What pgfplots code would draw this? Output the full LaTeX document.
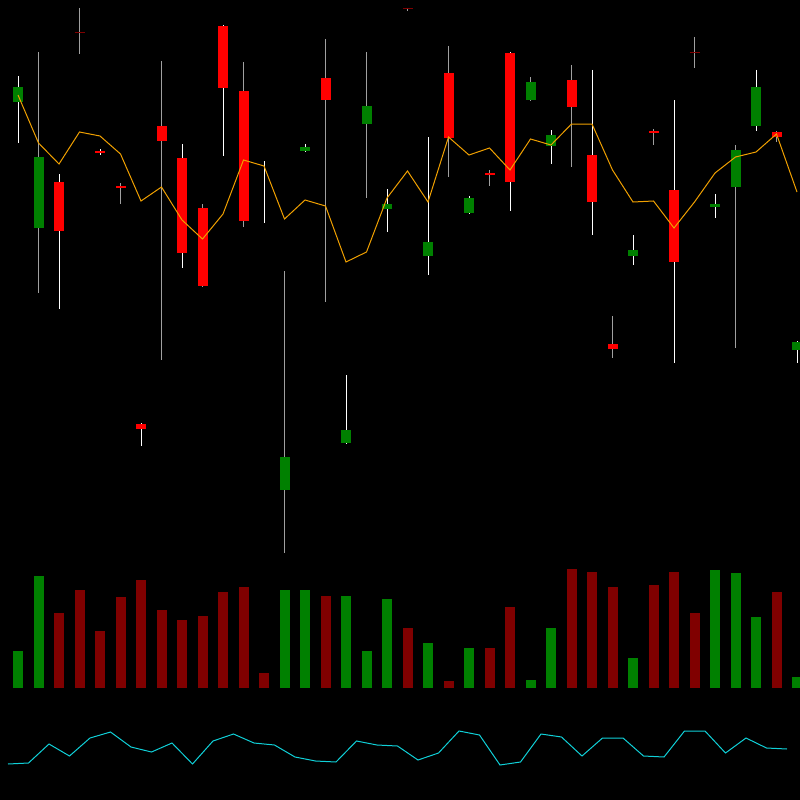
\documentclass[border=0pt]{standalone}
\usepackage{pgfplots}
\pgfplotsset{compat=1.18}
\definecolor{cgreen}{HTML}{008000}
\definecolor{cred}{HTML}{FF0000}
\definecolor{vred}{HTML}{800000}
\definecolor{wgray}{HTML}{A0A0A0}
\definecolor{maorange}{HTML}{F0A000}
\definecolor{lcyan}{HTML}{10D0D8}
\begin{document}
\begin{tikzpicture}
\begin{axis}[width=800bp,height=800bp,scale only axis,
  xmin=0,xmax=800,ymin=0,ymax=800,y dir=reverse,
  axis background/.style={fill=black},
  axis line style={draw=none},ticks=none,
  unbounded coords=jump, clip=true]
% wicks (even index)
\addplot[white,line width=1bp,mark=none] coordinates {
(18,76)(18,143)(18,nan)
(59,174)(59,309)(59,nan)
(100,149)(100,155)(100,nan)
(141,423)(141,446)(141,nan)
(182,144)(182,268)(182,nan)
(223,25)(223,156)(223,nan)
(264,161)(264,223)(264,nan)
(305,144)(305,152)(305,nan)
(346,375)(346,444)(346,nan)
(387,189)(387,232)(387,nan)
(428,137)(428,275)(428,nan)
(469,196)(469,214)(469,nan)
(510,52)(510,211)(510,nan)
(551,130)(551,164)(551,nan)
(592,70)(592,235)(592,nan)
(633,235)(633,265)(633,nan)
(674,100)(674,363)(674,nan)
(715,194)(715,218)(715,nan)
(756,70)(756,131)(756,nan)
(797,341)(797,363)
};
% wicks (odd index)
\addplot[wgray,line width=1.2bp,mark=none] coordinates {
(38.5,52)(38.5,293)(38.5,nan)
(79.5,8)(79.5,54)(79.5,nan)
(120.5,183)(120.5,204)(120.5,nan)
(161.5,61)(161.5,360)(161.5,nan)
(202.5,204)(202.5,287)(202.5,nan)
(243.5,62)(243.5,227)(243.5,nan)
(284.5,271)(284.5,553)(284.5,nan)
(325.5,39)(325.5,302)(325.5,nan)
(366.5,52)(366.5,198)(366.5,nan)
(407.5,8)(407.5,11)(407.5,nan)
(448.5,46)(448.5,177)(448.5,nan)
(489.5,170)(489.5,186)(489.5,nan)
(530.5,77)(530.5,101)(530.5,nan)
(571.5,65)(571.5,167)(571.5,nan)
(612.5,316)(612.5,358)(612.5,nan)
(653.5,129)(653.5,145)(653.5,nan)
(694.5,37)(694.5,68)(694.5,nan)
(735.5,145)(735.5,348)(735.5,nan)
(776.5,131)(776.5,142)
};
% green bodies
\addplot[cgreen,line width=10bp,mark=none] coordinates {
(18,87)(18,102)(18,nan)
(38.5,157)(38.5,228)(38.5,nan)
(284.5,457)(284.5,490)(284.5,nan)
(305,147)(305,151)(305,nan)
(346,430)(346,443)(346,nan)
(366.5,106)(366.5,124)(366.5,nan)
(387,204)(387,209)(387,nan)
(428,242)(428,256)(428,nan)
(469,198)(469,213)(469,nan)
(530.5,82)(530.5,100)(530.5,nan)
(551,135)(551,146)(551,nan)
(633,250)(633,256)(633,nan)
(715,204)(715,206.5)(715,nan)
(735.5,150)(735.5,187)(735.5,nan)
(756,87)(756,126)(756,nan)
(797,342)(797,350)
};
% red bodies
\addplot[cred,line width=10bp,mark=none] coordinates {
(59,182)(59,231)(59,nan)
(100,151)(100,153)(100,nan)
(120.5,186)(120.5,188)(120.5,nan)
(141,424)(141,429)(141,nan)
(161.5,126)(161.5,141)(161.5,nan)
(182,158)(182,253)(182,nan)
(202.5,208)(202.5,286)(202.5,nan)
(223,26)(223,88)(223,nan)
(243.5,91)(243.5,221)(243.5,nan)
(325.5,78)(325.5,100)(325.5,nan)
(448.5,73)(448.5,138)(448.5,nan)
(489.5,173)(489.5,175)(489.5,nan)
(510,53)(510,182)(510,nan)
(571.5,80)(571.5,107)(571.5,nan)
(592,155)(592,202)(592,nan)
(612.5,344)(612.5,349)(612.5,nan)
(653.5,131)(653.5,133)(653.5,nan)
(674,190)(674,262)(674,nan)
(776.5,132)(776.5,137)
};
% doji lines
\addplot[vred,line width=1bp,mark=none] coordinates {
(74.5,33)(84.5,33)(80,nan)
(402.5,9)(412.5,9)(410,nan)
(689.5,53)(699.5,53)
};
% moving average
\addplot[maorange,line width=1bp,mark=none] coordinates {
(18,95)(38.5,143)(59,164)(79.5,132)(100,136)(120.5,154)(141,201)(161.5,187)
(182,220)(202.5,239)(223,214)(243.5,160)(264,166)(284.5,219)(305,200)(325.5,206)
(346,262)(366.5,252)(387,198)(407.5,171)(428,202)(448.5,137)(469,155)(489.5,148)
(510,170)(530.5,139)(551,145)(571.5,124)(592,124)(612.5,170)(633,202)(653.5,201)
(674,228)(694.5,202)(715,173)(735.5,157)(756,152)(776.5,134)(797,192)
};
% volume green
\addplot[cgreen,line width=10bp,mark=none] coordinates {
(18,688)(18,651)(18,nan)
(38.5,688)(38.5,576)(38.5,nan)
(284.5,688)(284.5,590)(284.5,nan)
(305,688)(305,590)(305,nan)
(346,688)(346,596)(346,nan)
(366.5,688)(366.5,651)(366.5,nan)
(387,688)(387,599)(387,nan)
(428,688)(428,643)(428,nan)
(469,688)(469,648)(469,nan)
(530.5,688)(530.5,680)(530.5,nan)
(551,688)(551,628)(551,nan)
(633,688)(633,658)(633,nan)
(715,688)(715,570)(715,nan)
(735.5,688)(735.5,573)(735.5,nan)
(756,688)(756,617)(756,nan)
(797,688)(797,677)
};
% volume red
\addplot[vred,line width=10bp,mark=none] coordinates {
(59,688)(59,613)(59,nan)
(79.5,688)(79.5,590)(79.5,nan)
(100,688)(100,631)(100,nan)
(120.5,688)(120.5,597)(120.5,nan)
(141,688)(141,580)(141,nan)
(161.5,688)(161.5,610)(161.5,nan)
(182,688)(182,620)(182,nan)
(202.5,688)(202.5,616)(202.5,nan)
(223,688)(223,592)(223,nan)
(243.5,688)(243.5,587)(243.5,nan)
(264,688)(264,673)(264,nan)
(325.5,688)(325.5,596)(325.5,nan)
(407.5,688)(407.5,628)(407.5,nan)
(448.5,688)(448.5,681)(448.5,nan)
(489.5,688)(489.5,648)(489.5,nan)
(510,688)(510,607)(510,nan)
(571.5,688)(571.5,569)(571.5,nan)
(592,688)(592,572)(592,nan)
(612.5,688)(612.5,587)(612.5,nan)
(653.5,688)(653.5,585)(653.5,nan)
(674,688)(674,572)(674,nan)
(694.5,688)(694.5,613)(694.5,nan)
(776.5,688)(776.5,592)
};
% indicator line
\addplot[lcyan,line width=1bp,mark=none] coordinates {
(8,764)(28.5,763)(49,744)(69.5,756)(90,738)(110.5,732)(131,747)(151.5,752)
(172,743)(192.5,764)(213,741)(233.5,734)(254,743)(274.5,745)(295,757)(315.5,761)
(336,762)(356.5,741)(377,745)(397.5,746)(418,760)(438.5,753)(459,731)(479.5,735)
(500,765)(520.5,762)(541,734)(561.5,737)(582,756)(602.5,738)(623,738)(643.5,756)
(664,757)(684.5,731)(705,731)(725.5,753)(746,738)(766.5,748)(787,749)
};
\end{axis}
\end{tikzpicture}
\end{document}
